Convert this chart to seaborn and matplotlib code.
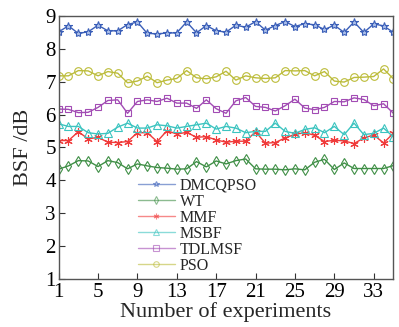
import matplotlib
matplotlib.use("Agg")
import matplotlib.pyplot as plt
import numpy as np
import pandas as pd
import seaborn as sns

experiments = list(range(1, 36))

dmcqpso = [8.52, 8.70, 8.47, 8.52, 8.72, 8.55, 8.55, 8.74, 8.82, 8.47,
           8.46, 8.48, 8.49, 8.82, 8.49, 8.71, 8.55, 8.51, 8.72, 8.66,
           8.83, 8.57, 8.71, 8.83, 8.68, 8.77, 8.73, 8.59, 8.72, 8.50,
           8.82, 8.50, 8.76, 8.70, 8.50]
wt = [4.34, 4.44, 4.60, 4.59, 4.42, 4.60, 4.54, 4.35, 4.50, 4.44,
      4.39, 4.37, 4.34, 4.35, 4.57, 4.41, 4.59, 4.50, 4.60, 4.65,
      4.35, 4.34, 4.34, 4.32, 4.35, 4.32, 4.55, 4.64, 4.33, 4.53,
      4.36, 4.36, 4.36, 4.36, 4.45]
mmf = [5.21, 5.21, 5.48, 5.26, 5.31, 5.16, 5.15, 5.18, 5.45, 5.45,
       5.18, 5.51, 5.41, 5.46, 5.31, 5.33, 5.23, 5.16, 5.19, 5.19,
       5.48, 5.13, 5.15, 5.29, 5.40, 5.45, 5.37, 5.18, 5.22, 5.20,
       5.12, 5.29, 5.38, 5.14, 5.43]
msbf = [5.72, 5.64, 5.64, 5.45, 5.41, 5.43, 5.62, 5.74, 5.59, 5.59,
        5.69, 5.66, 5.59, 5.64, 5.69, 5.74, 5.56, 5.64, 5.59, 5.45,
        5.49, 5.49, 5.74, 5.49, 5.43, 5.55, 5.60, 5.45, 5.64, 5.39,
        5.74, 5.39, 5.43, 5.59, 5.32]
tdlmsf = [6.17, 6.16, 6.06, 6.07, 6.22, 6.43, 6.45, 6.04, 6.40, 6.45,
          6.40, 6.50, 6.35, 6.35, 6.19, 6.45, 6.18, 6.04, 6.42, 6.52,
          6.25, 6.22, 6.11, 6.27, 6.47, 6.20, 6.15, 6.22, 6.40, 6.39,
          6.51, 6.46, 6.27, 6.33, 6.04]
pso = [7.18, 7.18, 7.34, 7.33, 7.18, 7.31, 7.26, 6.97, 7.02, 7.17,
       6.97, 7.05, 7.10, 7.34, 7.12, 7.09, 7.15, 7.32, 7.05, 7.18,
       7.12, 7.10, 7.12, 7.34, 7.33, 7.34, 7.18, 7.31, 7.02, 6.99,
       7.13, 7.14, 7.16, 7.39, 7.09]

names = ["DMCQPSO", "WT", "MMF", "MSBF", "TDLMSF", "PSO"]
values = [dmcqpso, wt, mmf, msbf, tdlmsf, pso]

styles = {
    "DMCQPSO": dict(color="#3b5fb8", marker="*", markersize=6, mfc="#a9bde8"),
    "WT": dict(color="#3f8f46", marker="d", markersize=5, mfc="none"),
    "MMF": dict(color="#f03a3a", marker=(6, 2, 0), markersize=6, mfc="none"),
    "MSBF": dict(color="#3cc4c0", marker="^", markersize=5.5, mfc="none"),
    "TDLMSF": dict(color="#a24cb4", marker="s", markersize=5, mfc="none"),
    "PSO": dict(color="#bcbc3a", marker="o", markersize=5.5, mfc="none"),
}

df = pd.DataFrame({"exp": experiments * len(names),
                   "bsf": np.concatenate(values),
                   "method": np.repeat(names, len(experiments))})

sns.set_theme(style="ticks")
plt.rcParams["font.family"] = ["Liberation Serif", "DejaVu Serif"]

fig = plt.figure(figsize=(3.99, 3.27), dpi=100)
ax = fig.add_axes([0.147, 0.147, 0.839, 0.804])

for name in names:
    st = styles[name]
    sub = df[df["method"] == name]
    sns.lineplot(data=sub, x="exp", y="bsf", ax=ax, label=name,
                 color=st["color"], marker=st["marker"], markersize=st["markersize"],
                 markerfacecolor=st["mfc"], markeredgecolor=st["color"],
                 markeredgewidth=0.8, linewidth=1.0)

ax.set_xlim(1, 35)
ax.set_ylim(1, 9)
ax.set_xticks(range(1, 35, 4))
ax.set_yticks(range(1, 10))
ax.tick_params(direction="in", length=4, width=0.8, labelsize=15, pad=2,
               colors="#333333", labelcolor="black")
ax.tick_params(axis="x", pad=3)
for sp in ax.spines.values():
    sp.set_visible(True)
    sp.set_color("#555555")
    sp.set_linewidth(1.0)

ax.set_xlabel("Number of experiments", fontsize=16, labelpad=0)
ax.set_ylabel("BSF /dB", fontsize=16, labelpad=9)

leg = ax.legend(loc="lower left", bbox_to_anchor=(0.237, 0.02), frameon=False,
                prop={"family": "Liberation Serif", "size": 11.5},
                handlelength=2.3, handletextpad=0.3,
                labelspacing=0.0, borderaxespad=0, borderpad=0)
for h in leg.legend_handles:
    h.set_alpha(0.6)
    h.set_markersize(4)

fig.savefig("out.png", dpi=100)
